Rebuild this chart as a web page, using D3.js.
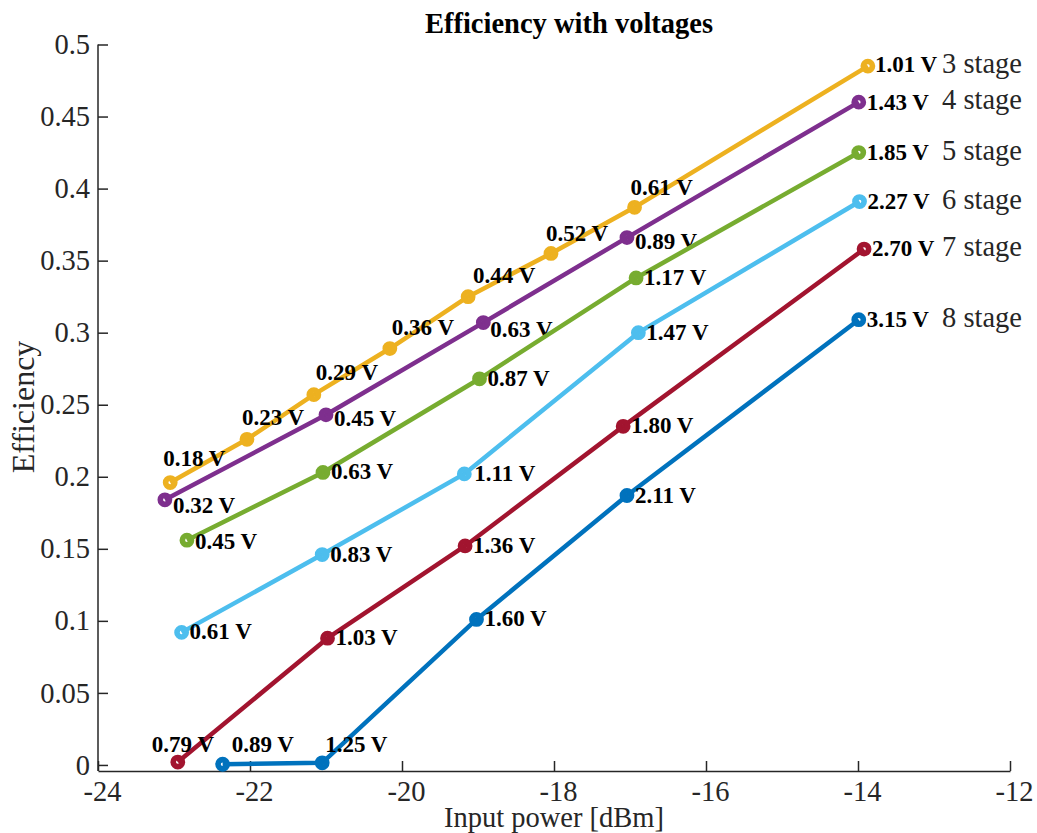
<html>
  <head>
    <script src="https://cdn.jsdelivr.net/npm/d3@7"></script>
    <style>
      * {
        margin: 0;
        padding: 0;
      }
      body {
        background-color: white;
        font-family: "Liberation Serif", "Times New Roman", serif;
      }
      .axis path,
      .axis line {
        stroke: #262626;
        stroke-width: 1.5;
      }
      .vlabel {
        font-weight: bold;
        font-size: 23px;
        fill: black;
      }
    </style>
  </head>
  <body>
    <div id="container"></div>
    <script>
      // series names and colours (MATLAB default order)
      const stages = ["3 stage", "4 stage", "5 stage", "6 stage", "7 stage", "8 stage"];
      const colors = ["#EDB120", "#7E2F8E", "#77AC30", "#4DBEEE", "#A2142F", "#0072BD"];

      // input power [dBm] per point
      const power3 = [-23.05, -22.04, -21.16, -20.16, -19.13, -18.04, -16.94, -13.87];
      const power4 = [-23.12, -21.0, -18.93, -17.04, -13.99];
      const power5 = [-22.83, -21.04, -18.98, -16.92, -13.99];
      const power6 = [-22.9, -21.05, -19.18, -16.89, -13.98];
      const power7 = [-22.95, -20.98, -19.17, -17.09, -13.92];
      const power8 = [-22.36, -21.05, -19.02, -17.04, -13.99];

      // efficiency per point
      const eff3 = [0.196, 0.226, 0.257, 0.289, 0.325, 0.355, 0.387, 0.485];
      const eff4 = [0.184, 0.243, 0.307, 0.366, 0.46];
      const eff5 = [0.156, 0.203, 0.268, 0.338, 0.425];
      const eff6 = [0.092, 0.146, 0.202, 0.3, 0.391];
      const eff7 = [0.002, 0.088, 0.152, 0.235, 0.358];
      const eff8 = [0.0005, 0.0015, 0.101, 0.187, 0.309];

      // output voltage labels
      const volt3 = ["0.18", "0.23", "0.29", "0.36", "0.44", "0.52", "0.61", "1.01"];
      const volt4 = ["0.32", "0.45", "0.63", "0.89", "1.43"];
      const volt5 = ["0.45", "0.63", "0.87", "1.17", "1.85"];
      const volt6 = ["0.61", "0.83", "1.11", "1.47", "2.27"];
      const volt7 = ["0.79", "1.03", "1.36", "1.80", "2.70"];
      const volt8 = ["0.89", "1.25", "1.60", "2.11", "3.15"];

      const xTicks = [-24, -22, -20, -18, -16, -14, -12];
      const yTicks = [0, 0.05, 0.1, 0.15, 0.2, 0.25, 0.3, 0.35, 0.4, 0.45, 0.5];

      // where each voltage label sits relative to its marker (px)
      const R = [8, 7];
      const placement = [
        [[-7, -17], [-5, -14], [2, -15], [2, -14], [5, -14], [-5, -12], [-4, -12], [7, 6]],
        [[8, 13], [8, 11], [7, 14], [8, 11], [8, 8]],
        [[8, 9], R, R, R, R],
        [R, R, [10, 7], R, R],
        [[-26, -10], R, R, R, R],
        [[9, -12], [3, -11], R, R, R],
      ];

      const powers = [power3, power4, power5, power6, power7, power8];
      const effs = [eff3, eff4, eff5, eff6, eff7, eff8];
      const volts = [volt3, volt4, volt5, volt6, volt7, volt8];

      const series = stages.map((name, s) => ({
        name: name,
        color: colors[s],
        points: powers[s].map((p, i) => ({
          x: p,
          y: effs[s][i],
          v: volts[s][i] + " V",
          off: placement[s][i],
        })),
      }));

      const w = 1037;
      const h = 833;
      const fontSize = 28.5;

      const xScale = d3.scaleLinear().domain([-24, -12]).range([98, 1010]);
      const yScale = d3.scaleLinear().domain([-0.0042, 0.5]).range([771, 44.5]);

      const svg = d3
        .select("#container")
        .append("svg")
        .attr("width", w)
        .attr("height", h);

      const xAxis = d3
        .axisBottom(xScale)
        .tickValues(xTicks)
        .tickSizeInner(-10)
        .tickSizeOuter(0)
        .tickPadding(10)
        .tickFormat((d) => d);

      const yAxis = d3
        .axisLeft(yScale)
        .tickValues(yTicks)
        .tickSizeInner(-10)
        .tickSizeOuter(0)
        .tickPadding(8)
        .tickFormat((d) => d);

      const gx = svg
        .append("g")
        .attr("class", "axis")
        .attr("transform", "translate(0," + 771 + ")")
        .call(xAxis)
        .attr("font-family", "Liberation Serif, serif")
        .attr("font-size", fontSize);
      gx.selectAll("text").attr("dx", 4).attr("fill", "#262626");

      const gy = svg
        .append("g")
        .attr("class", "axis")
        .attr("transform", "translate(" + 98 + ",0)")
        .call(yAxis)
        .attr("font-family", "Liberation Serif, serif")
        .attr("font-size", fontSize);
      gy.selectAll("text").attr("fill", "#262626");
      gy.select(".domain").attr("d", "M0," + yScale(0.5) + "V771");

      const line = d3
        .line()
        .x((d) => xScale(d.x))
        .y((d) => yScale(d.y));

      const groups = svg
        .selectAll(".series")
        .data(series)
        .enter()
        .append("g")
        .attr("class", "series");

      groups
        .append("path")
        .attr("d", (d) => line(d.points))
        .attr("fill", "none")
        .attr("stroke", (d) => d.color)
        .attr("stroke-width", 4.5)
        .attr("stroke-linejoin", "round");

      groups
        .selectAll("circle")
        .data((d) => d.points.map((p) => ({ ...p, color: d.color })))
        .enter()
        .append("circle")
        .attr("cx", (d) => xScale(d.x))
        .attr("cy", (d) => yScale(d.y))
        .attr("r", 4.6)
        .attr("fill", "none")
        .attr("stroke", (d) => d.color)
        .attr("stroke-width", 5.6);

      groups
        .selectAll(".vlabel")
        .data((d) => d.points)
        .enter()
        .append("text")
        .attr("class", "vlabel")
        .attr("x", (d) => xScale(d.x) + d.off[0])
        .attr("y", (d) => yScale(d.y) + d.off[1])
        .text((d) => d.v);

      // series names beside the last point
      groups
        .append("text")
        .attr("x", 942)
        .attr("y", (d) => yScale(d.points[d.points.length - 1].y) + 7)
        .attr("font-size", fontSize)
        .attr("fill", "#262626")
        .text((d) => d.name);

      svg
        .append("text")
        .attr("x", 569)
        .attr("y", 33)
        .attr("text-anchor", "middle")
        .attr("font-weight", "bold")
        .attr("font-size", fontSize)
        .text("Efficiency with voltages");

      svg
        .append("text")
        .attr("x", 554)
        .attr("y", 827)
        .attr("text-anchor", "middle")
        .attr("font-size", fontSize)
        .attr("fill", "#262626")
        .text("Input power [dBm]");

      svg
        .append("text")
        .attr("transform", "translate(34,407) rotate(-90)")
        .attr("text-anchor", "middle")
        .attr("font-size", 32)
        .attr("fill", "#262626")
        .text("Efficiency");
    </script>
  </body>
</html>
